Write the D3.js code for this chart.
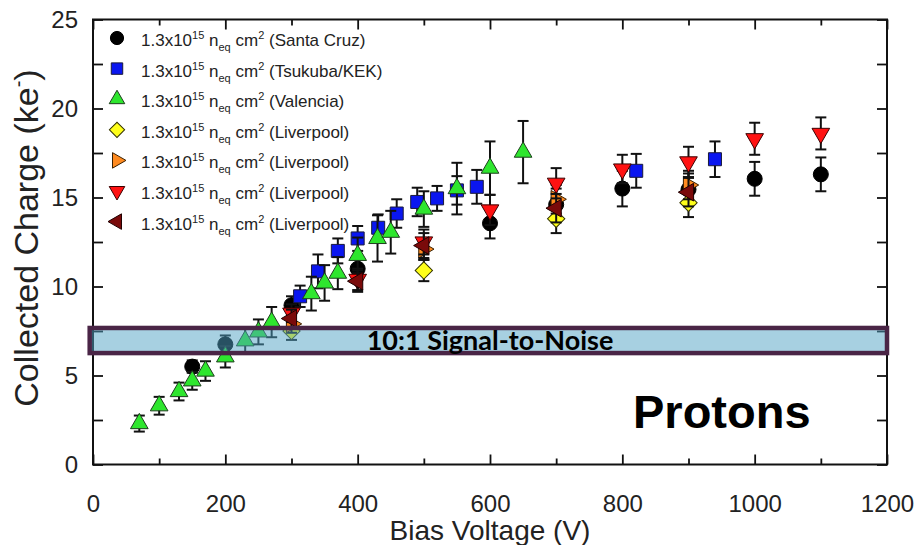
<!DOCTYPE html>
<html>
<head>
<meta charset="utf-8">
<script src="https://cdn.jsdelivr.net/npm/d3@7"></script>
<style>
  body { margin: 0; background: #fff; }
  svg { display: block; }
</style>
</head>
<body>
<script>
// Santa Cruz (black circles)
var santaCruzV = [150, 200, 300, 400, 600, 700, 800, 900, 1000, 1100];
var santaCruzQ = [5.5, 6.75, 8.95, 11.0, 13.55, 14.6, 15.5, 15.45, 16.05, 16.3];
var santaCruzErr = [0.35, 0.5, 0.5, 0.6, 0.85, 0.9, 1.0, 0.9, 0.95, 0.95];

// Tsukuba/KEK (blue squares)
var kekV = [313, 340, 370, 400, 431, 459, 490, 520, 550, 580, 821, 940];
var kekQ = [9.45, 10.85, 12.0, 12.7, 13.3, 14.1, 14.75, 14.95, 15.4, 15.6, 16.5, 17.15];
var kekErr = [0.6, 0.95, 0.7, 0.7, 0.75, 0.8, 0.8, 0.7, 0.8, 0.95, 0.95, 1.0];

// Valencia (green triangles)
var valenciaV = [70, 100, 130, 150, 170, 200, 230, 250, 270, 330, 350, 370, 400, 430, 450, 500, 550, 600, 650];
var valenciaQ = [2.3, 3.3, 4.1, 4.7, 5.25, 6.05, 6.95, 7.45, 8.0, 9.6, 10.2, 10.75, 11.75, 12.7, 13.05, 14.35, 15.5, 16.65, 17.55];
var valenciaErr = [0.45, 0.5, 0.5, 0.5, 0.55, 0.6, 0.7, 0.7, 0.85, 0.95, 1.0, 0.9, 1.0, 1.3, 1.2, 1.0, 1.45, 1.5, 1.75];

// Liverpool (yellow diamonds)
var livYellowV = [300, 500, 700, 900];
var livYellowQ = [7.5, 10.9, 13.8, 14.7];
var livYellowErr = [0.5, 0.6, 0.8, 0.8];

// Liverpool (orange right triangles)
var livOrangeV = [300, 500, 700, 900];
var livOrangeQ = [7.9, 12.1, 14.9, 15.7];
var livOrangeErr = [0.5, 0.6, 0.8, 0.8];

// Liverpool (red down triangles)
var livRedV = [300, 400, 500, 600, 700, 800, 900, 1000, 1100];
var livRedQ = [8.5, 10.4, 12.5, 14.3, 15.8, 16.6, 17.0, 18.3, 18.6];
var livRedErr = [0.5, 0.6, 0.7, 0.85, 0.85, 0.8, 0.85, 0.9, 0.9];

// Liverpool (dark red left triangles)
var livDarkV = [300, 400, 500, 700, 900];
var livDarkQ = [8.2, 10.3, 12.3, 14.4, 15.3];
var livDarkErr = [0.5, 0.6, 0.7, 0.8, 0.8];

var xMajor = [0, 200, 400, 600, 800, 1000, 1200];
var xMinor = [100, 300, 500, 700, 900, 1100];
var yMajor = [0, 5, 10, 15, 20, 25];
var yMinor = [2.5, 7.5, 12.5, 17.5, 22.5];

// 10:1 signal-to-noise band
var bandV = [-5, 1200];
var bandQ = [6.26, 7.67];

var width = 918, height = 545;
var margin = {left: 93, right: 31, top: 19.5, bottom: 80.5};

var svg = d3.select("body").append("svg")
    .attr("width", width)
    .attr("height", height);

var x = d3.scaleLinear().domain([0, 1200]).range([margin.left, width - margin.right]);
var y = d3.scaleLinear().domain([0, 25]).range([height - margin.bottom, margin.top]);

var font = "'Liberation Sans', Arial, sans-serif";

var series = [
    {name: "Santa Cruz", v: santaCruzV, q: santaCruzQ, err: santaCruzErr, shape: "circle", fill: "#000000", stroke: "#000000"},
    {name: "Tsukuba/KEK", v: kekV, q: kekQ, err: kekErr, shape: "square", fill: "#0a16f0", stroke: "#1a1a3a"},
    {name: "Valencia", v: valenciaV, q: valenciaQ, err: valenciaErr, shape: "up", fill: "#2ee62e", stroke: "#1d3d1d"},
    {name: "Liverpool", v: livYellowV, q: livYellowQ, err: livYellowErr, shape: "diamond", fill: "#ffff1a", stroke: "#333300"},
    {name: "Liverpool", v: livOrangeV, q: livOrangeQ, err: livOrangeErr, shape: "right", fill: "#ff8a1f", stroke: "#3a2000"},
    {name: "Liverpool", v: livRedV, q: livRedQ, err: livRedErr, shape: "down", fill: "#ff1212", stroke: "#3a0000"},
    {name: "Liverpool", v: livDarkV, q: livDarkQ, err: livDarkErr, shape: "left", fill: "#7a0a0a", stroke: "#200000"}
];

function symbolPath(shape, scale) {
    var s = scale || 1;
    if (shape === "circle") return {d: d3.symbol(d3.symbolCircle, 177 * s * s)(), rot: 0};
    if (shape === "square") return {d: d3.symbol(d3.symbolSquare, 169 * s * s)(), rot: 0};
    if (shape === "diamond") return {d: d3.symbol(d3.symbolSquare, 150 * s * s)(), rot: 45};
    var tri = d3.symbol(d3.symbolTriangle, 135 * s * s)();
    if (shape === "up") return {d: tri, rot: 0};
    if (shape === "down") return {d: tri, rot: 180};
    if (shape === "right") return {d: tri, rot: 90};
    return {d: tri, rot: -90};
}

// frame ticks, all four sides, pointing inward
function addAxis(axisFn, vals, size, transform, labels) {
    var ax = axisFn.tickValues(vals).tickSizeInner(-size).tickSizeOuter(0);
    ax.tickFormat(labels ? d3.format("d") : "");
    var g = svg.append("g").attr("transform", transform).call(ax);
    g.select(".domain").remove();
    g.selectAll(".tick line").attr("stroke", "#111").attr("stroke-width", 1.8);
    return g;
}

var xb = addAxis(d3.axisBottom(x), xMajor, 10, "translate(0," + y(0) + ")", true);
xb.selectAll(".tick text")
    .attr("font-family", font).attr("font-size", 24).attr("fill", "#222")
    .attr("y", 47).attr("dy", 0);
addAxis(d3.axisBottom(x), xMinor, 6, "translate(0," + y(0) + ")", false);
addAxis(d3.axisTop(x), xMajor, 10, "translate(0," + y(25) + ")", false);
addAxis(d3.axisTop(x), xMinor, 6, "translate(0," + y(25) + ")", false);

var yl = addAxis(d3.axisLeft(y), yMajor, 10, "translate(" + x(0) + ",0)", true);
yl.selectAll(".tick text")
    .attr("font-family", font).attr("font-size", 24).attr("fill", "#222")
    .attr("x", -15).attr("dy", "0.35em");
addAxis(d3.axisLeft(y), yMinor, 10, "translate(" + x(0) + ",0)", false);
addAxis(d3.axisRight(y), yMajor, 10, "translate(" + x(1200) + ",0)", false);
addAxis(d3.axisRight(y), yMinor, 10, "translate(" + x(1200) + ",0)", false);

svg.append("rect")
    .attr("x", x(0)).attr("y", y(25))
    .attr("width", x(1200) - x(0)).attr("height", y(0) - y(25))
    .attr("fill", "none").attr("stroke", "#111").attr("stroke-width", 2);

// data: error bars then markers, one series at a time
series.forEach(function(s) {
    var pts = s.v.map(function(v, i) { return {v: v, q: s.q[i], e: s.err[i]}; });
    var g = svg.append("g");
    var eb = g.selectAll(".eb").data(pts).enter().append("g").attr("class", "eb")
        .attr("stroke", "#111").attr("stroke-width", 2);
    eb.append("line")
        .attr("x1", function(d) { return x(d.v); }).attr("x2", function(d) { return x(d.v); })
        .attr("y1", function(d) { return y(d.q + d.e); }).attr("y2", function(d) { return y(d.q - d.e); });
    eb.append("line")
        .attr("x1", function(d) { return x(d.v) - 5.5; }).attr("x2", function(d) { return x(d.v) + 5.5; })
        .attr("y1", function(d) { return y(d.q + d.e); }).attr("y2", function(d) { return y(d.q + d.e); });
    eb.append("line")
        .attr("x1", function(d) { return x(d.v) - 5.5; }).attr("x2", function(d) { return x(d.v) + 5.5; })
        .attr("y1", function(d) { return y(d.q - d.e); }).attr("y2", function(d) { return y(d.q - d.e); });

    var sym = symbolPath(s.shape, 1);
    g.selectAll(".pt").data(pts).enter().append("path").attr("class", "pt")
        .attr("d", sym.d)
        .attr("transform", function(d) { return "translate(" + x(d.v) + "," + y(d.q) + ") rotate(" + sym.rot + ")"; })
        .attr("fill", s.fill)
        .attr("stroke", s.stroke)
        .attr("stroke-width", 1);
});

// signal-to-noise band, semi transparent over the points
svg.append("rect")
    .attr("x", x(bandV[0])).attr("y", y(bandQ[1]))
    .attr("width", x(bandV[1]) - x(bandV[0])).attr("height", y(bandQ[0]) - y(bandQ[1]))
    .attr("fill", "rgba(80,162,196,0.5)");
svg.append("rect")
    .attr("x", x(bandV[0])).attr("y", y(bandQ[1]))
    .attr("width", x(bandV[1]) - x(bandV[0])).attr("height", y(bandQ[0]) - y(bandQ[1]))
    .attr("fill", "none").attr("stroke", "#4a2546").attr("stroke-width", 4.5);
svg.append("text")
    .attr("x", 490).attr("y", 350)
    .attr("text-anchor", "middle")
    .attr("font-family", "Lato, 'Open Sans', sans-serif").attr("font-weight", "bold")
    .attr("font-size", 27).attr("fill", "#000")
    .text("10:1 Signal-to-Noise");

svg.append("text")
    .attr("x", 633).attr("y", 428)
    .attr("font-family", font).attr("font-weight", "bold")
    .attr("font-size", 47).attr("fill", "#000")
    .text("Protons");

// legend
var legend = svg.append("g").attr("transform", "translate(117,38)");
series.forEach(function(s, i) {
    var row = legend.append("g").attr("transform", "translate(0," + (i * 30.6) + ")");
    var sym = symbolPath(s.shape, 0.88);
    row.append("path")
        .attr("d", sym.d)
        .attr("transform", "rotate(" + sym.rot + ")")
        .attr("fill", s.fill).attr("stroke", s.stroke).attr("stroke-width", 1);
    var t = row.append("text")
        .attr("x", 24).attr("y", 8)
        .attr("font-family", font).attr("font-size", 17).attr("fill", "#222");
    t.append("tspan").text("1.3x10");
    t.append("tspan").attr("dy", -7).attr("font-size", 11).text("15");
    t.append("tspan").attr("dy", 7).text(" n");
    t.append("tspan").attr("dy", 5).attr("font-size", 11).text("eq");
    t.append("tspan").attr("dy", -5).text(" cm");
    t.append("tspan").attr("dy", -7).attr("font-size", 11).text("2");
    t.append("tspan").attr("dy", 7).text(" (" + s.name + ")");
});

// axis titles
svg.append("text")
    .attr("x", 490).attr("y", 540)
    .attr("text-anchor", "middle")
    .attr("font-family", font).attr("font-size", 28).attr("fill", "#222")
    .text("Bias Voltage (V)");

var yt = svg.append("text")
    .attr("transform", "translate(38,238) rotate(-90)")
    .attr("text-anchor", "middle")
    .attr("font-family", font).attr("font-size", 34).attr("fill", "#222");
yt.append("tspan").text("Collected Charge (ke");
yt.append("tspan").attr("dy", -13).attr("font-size", 20).text("-");
yt.append("tspan").attr("dy", 13).text(")");
</script>
</body>
</html>
